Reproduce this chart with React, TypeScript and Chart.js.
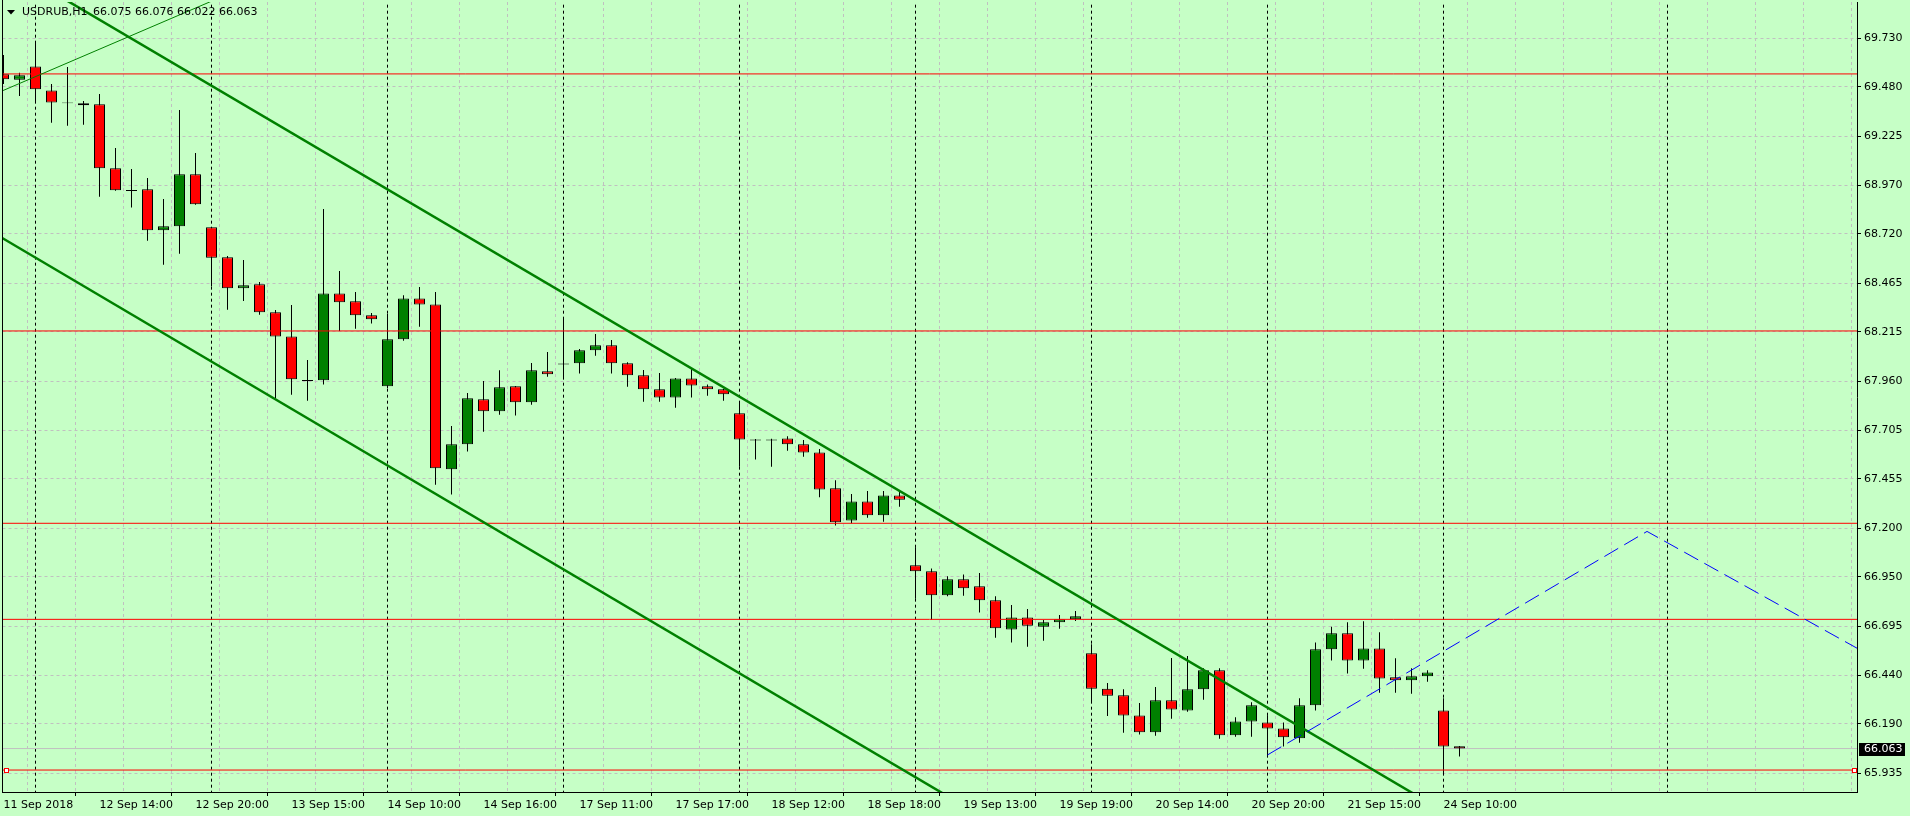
import React, { useEffect, useRef } from 'react';
import { Chart, registerables } from 'chart.js';

Chart.register(...registerables);

// ---- data (H1 bars, first bar = 11 Sep 2018 19:00, 11 bars per day 10:00-20:00) ----
const opens = [69.544, 69.516, 69.585, 69.461, 69.398, 69.394, 69.389, 69.059, 68.947, 68.950,
  68.739, 68.759, 69.028, 68.754, 68.599, 68.439, 68.460, 68.315, 68.191, 67.966,
  67.964, 68.413, 68.372, 68.300, 67.933, 68.176, 68.387, 68.356, 67.505, 67.634,
  67.866, 67.804, 67.933, 67.851, 68.011, 68.046, 68.052, 68.119, 68.145, 68.052,
  67.990, 67.918, 67.876, 67.974, 67.933, 67.918, 67.794, 67.659, 67.658, 67.664,
  67.634, 67.592, 67.407, 67.241, 67.339, 67.267, 67.370, 67.009, 66.978, 66.854,
  66.937, 66.901, 66.828, 66.678, 66.740, 66.692, 66.715, 66.730, 66.555, 66.372,
  66.338, 66.234, 66.147, 66.312, 66.260, 66.369, 66.467, 66.131, 66.203, 66.198,
  66.167, 66.116, 66.286, 66.575, 66.658, 66.518, 66.580, 66.431, 66.415, 66.436,
  66.260, 66.075];
const highs = [69.644, 69.552, 69.713, 69.494, 69.582, 69.406, 69.442, 69.164, 69.055, 69.009,
  68.900, 69.360, 69.138, 68.756, 68.606, 68.585, 68.472, 68.327, 68.353, 68.069,
  68.849, 68.529, 68.420, 68.312, 68.307, 68.403, 68.446, 68.420, 67.728, 67.899,
  67.961, 68.016, 67.935, 68.054, 68.110, 68.284, 68.126, 68.203, 68.172, 68.057,
  68.017, 68.002, 67.976, 68.026, 67.943, 67.920, 67.854, 67.661, 67.662, 67.675,
  67.656, 67.610, 67.448, 67.377, 67.393, 67.393, 67.393, 67.102, 66.993, 66.952,
  66.962, 66.969, 66.849, 66.804, 66.783, 66.727, 66.752, 66.773, 66.601, 66.401,
  66.369, 66.298, 66.381, 66.530, 66.541, 66.477, 66.477, 66.224, 66.302, 66.235,
  66.198, 66.322, 66.611, 66.692, 66.715, 66.720, 66.663, 66.529, 66.477, 66.467,
  66.322, 66.076];
const lows = [69.494, 69.432, 69.406, 69.294, 69.279, 69.284, 68.912, 68.943, 68.856, 68.685,
  68.561, 68.618, 68.871, 68.448, 68.329, 68.374, 68.303, 67.871, 67.890, 67.859,
  67.943, 68.219, 68.231, 68.257, 67.923, 68.169, 68.241, 67.425, 67.374, 67.596,
  67.699, 67.787, 67.782, 67.838, 67.983, 67.978, 67.999, 68.091, 67.999, 67.931,
  67.854, 67.854, 67.823, 67.875, 67.885, 67.859, 67.518, 67.555, 67.518, 67.601,
  67.570, 67.360, 67.215, 67.226, 67.255, 67.234, 67.312, 66.837, 66.728, 66.849,
  66.852, 66.766, 66.635, 66.610, 66.589, 66.620, 66.682, 66.721, 66.303, 66.231,
  66.145, 66.135, 66.129, 66.217, 66.253, 66.315, 66.114, 66.124, 66.124, 66.030,
  66.073, 66.093, 66.260, 66.517, 66.450, 66.475, 66.351, 66.351, 66.346, 66.408,
  65.935, 66.022];
const closes = [69.518, 69.539, 69.467, 69.399, 69.394, 69.384, 69.059, 68.945, 68.942, 68.739,
  68.759, 69.028, 68.873, 68.597, 68.439, 68.455, 68.315, 68.191, 67.969, 67.961,
  68.413, 68.367, 68.300, 68.279, 68.176, 68.387, 68.356, 67.510, 67.634, 67.871,
  67.804, 67.928, 67.851, 68.016, 67.995, 68.051, 68.119, 68.145, 68.052, 67.990,
  67.918, 67.876, 67.974, 67.938, 67.918, 67.892, 67.659, 67.654, 67.653, 67.634,
  67.592, 67.401, 67.231, 67.339, 67.267, 67.370, 67.348, 66.978, 66.854, 66.937,
  66.890, 66.828, 66.684, 66.740, 66.697, 66.715, 66.730, 66.746, 66.372, 66.336,
  66.233, 66.147, 66.312, 66.265, 66.369, 66.467, 66.131, 66.203, 66.286, 66.167,
  66.121, 66.286, 66.575, 66.658, 66.518, 66.580, 66.425, 66.415, 66.436, 66.456,
  66.074, 66.063];

const xLabelIdx = [0, 6, 12, 18, 24, 30, 36, 42, 48, 54, 60, 66, 72, 78, 84, 90];
const xLabels = ['11 Sep 2018', '12 Sep 14:00', '12 Sep 20:00', '13 Sep 15:00', '14 Sep 10:00',
  '14 Sep 16:00', '17 Sep 11:00', '17 Sep 17:00', '18 Sep 12:00', '18 Sep 18:00', '19 Sep 13:00',
  '19 Sep 19:00', '20 Sep 14:00', '20 Sep 20:00', '21 Sep 15:00', '24 Sep 10:00'];
const yTicks = [69.730, 69.480, 69.225, 68.970, 68.720, 68.465, 68.215, 67.960, 67.705, 67.455,
  67.200, 66.950, 66.695, 66.440, 66.190, 65.935];
const daySeparators = [2, 13, 24, 35, 46, 57, 68, 79, 90, 104];
const levelLines = [69.546, 68.219, 67.226, 66.730, 65.952];
const selectedLevel = 65.952;
const bidPrice = 66.063;
const titleSymbol = 'USDRUB,H1';
const titleOHLC = '66.075 66.076 66.022 66.063';

const channelUpper = [{ x: 4, y: 69.923 }, { x: 90, y: 65.739 }];
const channelLower = [{ x: -2, y: 68.7925 }, { x: 62, y: 65.671 }];
const thinTrend = [{ x: -1, y: 69.426 }, { x: 14, y: 69.957 }];
const bluePath = [{ x: 79, y: 66.030 }, { x: 102.72, y: 67.184 }, { x: 118, y: 66.482 }];

const X_MIN = -0.0625;
const X_MAX = 115.84375;
const Y_MIN = 65.8386;
const Y_MAX = 69.9174;

const BG = 'rgb(198,255,198)';
const BULL = '#008000';
const BEAR = '#ff0000';
const GRID = '#c0c0c0';
const FONT = 'DejaVu Sans';

export default function App() {
  const ref = useRef<HTMLCanvasElement | null>(null);

  useEffect(() => {
    document.body.style.margin = '0';
    const canvas = ref.current;
    if (!canvas) return;

    const idx = opens.map((_, i) => i);
    const wickData = idx.map((i) => ({ x: i, y: [lows[i], highs[i]] }));
    const bodyData = idx.map((i) => ({ x: i, y: [Math.min(opens[i], closes[i]), Math.max(opens[i], closes[i])] }));
    const bodyColors = idx.map((i) => (closes[i] >= opens[i] ? BULL : BEAR));

    const sepData: any[] = [];
    daySeparators.forEach((s) => {
      sepData.push({ x: s, y: Y_MIN - 1 }, { x: s, y: Y_MAX + 1 }, { x: s, y: null });
    });
    const levelData: any[] = [];
    levelLines.forEach((p) => {
      levelData.push({ x: X_MIN - 5, y: p }, { x: X_MAX + 5, y: p }, { x: X_MAX + 5, y: null });
    });

    const gridIdx: number[] = [];
    for (let i = 0; i <= 114; i += 3) gridIdx.push(i);
    const labelFor = (v: number) => {
      const k = xLabelIdx.indexOf(Math.round(v));
      return k >= 0 ? xLabels[k] : '';
    };

    const lineBase = { type: 'line', pointRadius: 0, fill: false, tension: 0, clip: 0, spanGaps: false };

    const bgPlugin = {
      id: 'bg',
      beforeDraw(chart: any) {
        const c = chart.ctx;
        c.save();
        c.fillStyle = BG;
        c.fillRect(0, 0, chart.width, chart.height);
        c.restore();
      },
      afterDraw(chart: any) {
        const c = chart.ctx;
        const area = chart.chartArea;
        const ys = chart.scales.y;
        c.save();
        // left frame
        c.strokeStyle = '#000';
        c.lineWidth = 1;
        c.beginPath();
        c.moveTo(2.5, 0);
        c.lineTo(2.5, area.bottom);
        c.stroke();
        // selection handles on the selected level
        const sy = Math.round(ys.getPixelForValue(selectedLevel)) + 0.5;
        c.fillStyle = '#ffffff';
        c.strokeStyle = BEAR;
        [area.left + 3, area.right - 3].forEach((hx) => {
          const cx = Math.round(hx) + 0.5;
          c.fillRect(cx - 2, sy - 2, 4, 4);
          c.strokeRect(cx - 2, sy - 2, 4, 4);
        });
        // title
        c.fillStyle = '#000';
        c.beginPath();
        c.moveTo(7, 10);
        c.lineTo(15, 10);
        c.lineTo(11, 14.5);
        c.closePath();
        c.fill();
        c.font = `11px "${FONT}"`;
        c.textBaseline = 'middle';
        c.textAlign = 'left';
        c.fillText(titleSymbol, 22, 12.5);
        c.fillText(titleOHLC, 93, 12.5);
        // bid price box
        const by = ys.getPixelForValue(bidPrice);
        c.fillStyle = '#000';
        c.fillRect(area.right + 2, Math.round(by) - 6, 46, 13);
        c.fillStyle = '#fff';
        c.fillText(bidPrice.toFixed(3), area.right + 7, Math.round(by) + 0.5);
        c.restore();
      },
    };

    const chart = new Chart(canvas, {
      type: 'bar',
      data: {
        datasets: [
          { ...lineBase, label: 'trend-thin', data: thinTrend, borderColor: BULL, borderWidth: 1, order: 0 },
          { ...lineBase, label: 'blue', data: bluePath, borderColor: '#0000ff', borderWidth: 1, borderDash: [16, 7], order: 0 },
          { ...lineBase, label: 'channel-up', data: channelUpper, borderColor: BULL, borderWidth: 2.5, order: 1 },
          { ...lineBase, label: 'channel-low', data: channelLower, borderColor: BULL, borderWidth: 2.5, order: 1 },
          { ...lineBase, label: 'levels', data: levelData, borderColor: BEAR, borderWidth: 1, order: 2 },
          {
            type: 'bar', label: 'body', data: bodyData, backgroundColor: bodyColors, borderColor: '#000',
            borderWidth: 1, borderSkipped: false, barThickness: 11, grouped: false, inflateAmount: 0, clip: 0, order: 3,
          },
          {
            type: 'bar', label: 'wick', data: wickData, backgroundColor: '#000', borderWidth: 0,
            barThickness: 1, grouped: false, inflateAmount: 0, clip: 0, order: 4,
          },
          { ...lineBase, label: 'bid', data: [{ x: X_MIN - 5, y: bidPrice }, { x: X_MAX + 5, y: bidPrice }], borderColor: GRID, borderWidth: 1, order: 5 },
          { ...lineBase, label: 'sep', data: sepData, borderColor: '#000', borderWidth: 1, borderDash: [3, 3], order: 6 },
        ] as any,
      },
      options: {
        animation: false,
        responsive: false,
        devicePixelRatio: 1,
        events: [],
        layout: { padding: { left: 2.5, top: 2, right: 0, bottom: 0 }, autoPadding: false },
        plugins: { legend: { display: false }, tooltip: { enabled: false }, title: { display: false } },
        scales: {
          x: {
            type: 'linear',
            min: X_MIN,
            max: X_MAX,
            bounds: 'data',
            offset: false,
            afterBuildTicks: (s: any) => { s.ticks = gridIdx.map((v) => ({ value: v })); },
            afterFit: (s: any) => {
              s.height = 24;
              s.paddingLeft = 0; s.paddingRight = 0; s.paddingTop = 0; s.paddingBottom = 0;
            },
            ticks: {
              autoSkip: false, maxRotation: 0, minRotation: 0, align: 'start', padding: 3,
              color: '#000', font: { family: FONT, size: 11 },
              callback: (v: any) => labelFor(Number(v)),
            },
            grid: {
              color: GRID, lineWidth: 1, tickLength: 4, drawTicks: true,
              tickColor: (c: any) => (c.tick && labelFor(c.tick.value) !== '' ? '#000' : 'rgba(0,0,0,0)'),
            },
            border: { display: true, color: '#000', width: 1, dash: [3, 3] },
          },
          y: {
            type: 'linear',
            position: 'right',
            min: Y_MIN,
            max: Y_MAX,
            bounds: 'data',
            afterBuildTicks: (s: any) => { s.ticks = yTicks.map((v) => ({ value: v })); },
            afterFit: (s: any) => {
              s.width = 53;
              s.paddingLeft = 0; s.paddingRight = 0; s.paddingTop = 0; s.paddingBottom = 0;
            },
            ticks: { padding: 3, color: '#000', font: { family: FONT, size: 11 }, callback: (v: any) => Number(v).toFixed(3) },
            grid: { color: GRID, lineWidth: 1, tickLength: 4, tickColor: '#000' },
            border: { display: true, color: '#000', width: 1, dash: [3, 3] },
          },
        },
      } as any,
      plugins: [bgPlugin],
    });

    return () => chart.destroy();
  }, []);

  return (
    <div style={{ position: 'fixed', left: 0, top: 0, width: 1910, height: 816 }}>
      <canvas ref={ref} width={1910} height={816} style={{ display: 'block', width: 1910, height: 816 }} />
    </div>
  );
}
